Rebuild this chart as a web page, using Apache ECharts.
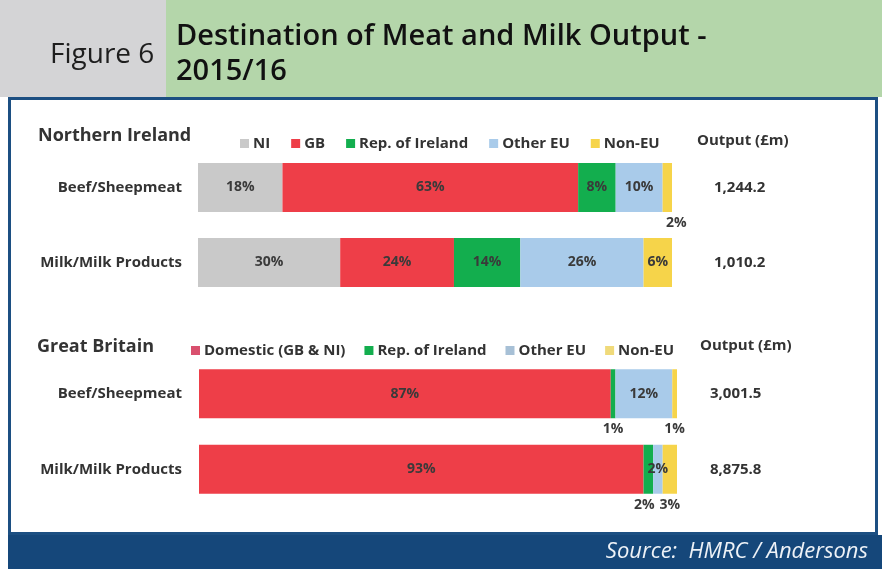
<!DOCTYPE html>
<html>
<head>
<meta charset="utf-8">
<script src="https://cdn.jsdelivr.net/npm/echarts@6/dist/echarts.min.js"></script>
<style>
  html, body { margin: 0; padding: 0; background: #fff; }
  #main { width: 882px; height: 569px; }
</style>
</head>
<body>
<div id="main"></div>
<script>
// categories
const categories = ['Beef/Sheepmeat', 'Milk/Milk Products']

// Northern Ireland - % of output by destination
const niNI = [18, 30]
const niGB = [63, 24]
const niROI = [8, 14]
const niOtherEU = [10, 26]
const niNonEU = [2, 6]
const niOutput = ['1,244.2', '1,010.2']

// Great Britain - % of output by destination
const gbDomestic = [87, 93]
const gbROI = [1, 2]
const gbOtherEU = [12, 2]
const gbNonEU = [1, 3]
const gbOutput = ['3,001.5', '8,875.8']

// small segments labelled under the bar
const niBelow = { 'Non-EU': [0] }
const gbBelow = { 'Rep. of Ireland': [0, 1], 'Non-EU': [0, 1] }

const colors = {
  'NI': '#c9c9c9',
  'GB': '#ee3e48',
  'Domestic (GB & NI)': '#ee3e48',
  'Rep. of Ireland': '#13ae4e',
  'Other EU': '#a9cbea',
  'Non-EU': '#f6d44a'
}
const FONT = '"Open Sans"'
const TXT = '#333'

function buildSeries (rows, stack, axisIdx, below) {
  // each bar is drawn as share of its own row total so both rows fill the width
  let totals = categories.map((c, i) => rows.reduce((s, r) => s + r.data[i], 0))
  return rows.map(r => ({
    name: r.name,
    type: 'bar',
    stack: stack,
    xAxisIndex: axisIdx,
    yAxisIndex: axisIdx * 2,
    barWidth: 49,
    itemStyle: { color: colors[r.name] },
    data: r.data.map((v, i) => {
      let item = { value: v / totals[i] * 100, raw: v }
      let b = below[r.name]
      if (b && b.indexOf(i) >= 0) {
        item.label = { position: 'bottom', distance: 4, offset: r.name === 'Non-EU' && stack === 'ni' ? [9, 0] : (r.name === 'Rep. of Ireland' && i === 1 ? [-4, 0] : [0, 0]) }
      }
      return item
    }),
    label: {
      show: true,
      position: 'inside',
      fontFamily: FONT,
      fontWeight: 'bold',
      fontSize: 14,
      color: '#3a3a3a',
      formatter: p => p.data.raw + '%'
    }
  }))
}

let niRows = [
  { name: 'NI', data: niNI },
  { name: 'GB', data: niGB },
  { name: 'Rep. of Ireland', data: niROI },
  { name: 'Other EU', data: niOtherEU },
  { name: 'Non-EU', data: niNonEU }
]
let gbRows = [
  { name: 'Domestic (GB & NI)', data: gbDomestic },
  { name: 'Rep. of Ireland', data: gbROI },
  { name: 'Other EU', data: gbOtherEU },
  { name: 'Non-EU', data: gbNonEU }
]

const labelStyle = { fontFamily: FONT, fontWeight: 'bold', fontSize: 15, color: TXT }
const legendText = { fontFamily: FONT, fontWeight: 'bold', fontSize: 15, color: TXT, padding: [0, 0, 0, -1] }

function catAxis (grid, margin) {
  return {
    type: 'category', gridIndex: grid, data: categories, inverse: true,
    axisLine: { show: false }, axisTick: { show: false },
    axisLabel: Object.assign({ margin: margin }, labelStyle)
  }
}
function outAxis (grid, data, margin) {
  return {
    type: 'category', gridIndex: grid, data: data, inverse: true, position: 'right',
    axisLine: { show: false }, axisTick: { show: false },
    axisLabel: Object.assign({ margin: margin, align: 'left' }, labelStyle)
  }
}

let mychart = echarts.init(document.getElementById('main'), null, { renderer: 'canvas' })
let option = {
  animation: false,
  backgroundColor: '#fff',
  graphic: [
    // header
    { type: 'rect', shape: { x: 0, y: 0, width: 166, height: 97 }, style: { fill: '#d4d4d6' }, z: -10 },
    { type: 'rect', shape: { x: 166, y: 0, width: 716, height: 97 }, style: { fill: '#b4d6aa' }, z: -10 },
    { type: 'text', left: 50, top: 41, style: { text: 'Figure 6', font: '28px "Open Sans"', fill: '#1e1e1e' } },
    { type: 'text', left: 176, top: 19, style: { text: 'Destination of Meat and Milk Output -\n2015/16', font: '600 29px "Open Sans"', lineHeight: 35, fill: '#111' } },
    // panel
    { type: 'rect', shape: { x: 9.5, y: 98.5, width: 867, height: 435 }, style: { fill: 'none', stroke: '#1c4f82', lineWidth: 3 }, z: -5 },
    // footer
    { type: 'rect', shape: { x: 8, y: 535, width: 874, height: 34 }, style: { fill: '#15477a' }, z: -10 },
    { type: 'text', right: 14, top: 541, style: { text: 'Source:  HMRC / Andersons', font: 'italic 22px "Open Sans"', fill: '#eef2f7' } },
    // section titles
    { type: 'text', left: 38, top: 127, style: { text: 'Northern Ireland', font: 'bold 18px "Open Sans"', fill: TXT } },
    { type: 'text', left: 697, top: 133, style: { text: 'Output (£m)', font: 'bold 15px "Open Sans"', fill: TXT } },
    { type: 'text', left: 37, top: 338, style: { text: 'Great Britain', font: 'bold 18px "Open Sans"', fill: TXT } },
    { type: 'text', left: 700, top: 338, style: { text: 'Output (£m)', font: 'bold 15px "Open Sans"', fill: TXT } }
  ],
  legend: [
    {
      left: 235, top: 131, itemWidth: 9, itemHeight: 9, itemGap: 21, icon: 'rect',
      data: niRows.map(r => r.name),
      textStyle: legendText,
      selectedMode: false
    },
    {
      left: 186, top: 338, itemWidth: 9, itemHeight: 9, itemGap: 19, icon: 'rect',
      data: [
        { name: 'Domestic (GB & NI)', itemStyle: { color: '#d9506e' } },
        { name: 'Rep. of Ireland' },
        { name: 'Other EU', itemStyle: { color: '#a7c0d6' } },
        { name: 'Non-EU', itemStyle: { color: '#f0da7a' } }
      ],
      textStyle: legendText,
      selectedMode: false
    }
  ],
  grid: [
    { left: 198, right: 210, top: 150, height: 150 },
    { left: 199, right: 205, top: 356, height: 151 }
  ],
  xAxis: [
    { type: 'value', gridIndex: 0, min: 0, max: 100, show: false },
    { type: 'value', gridIndex: 1, min: 0, max: 100, show: false }
  ],
  yAxis: [
    catAxis(0, 16),
    outAxis(0, niOutput, 42),
    catAxis(1, 17),
    outAxis(1, gbOutput, 33)
  ],
  series: buildSeries(niRows, 'ni', 0, niBelow).concat(buildSeries(gbRows, 'gb', 1, gbBelow))
}
mychart.setOption(option)
</script>
</body>
</html>
